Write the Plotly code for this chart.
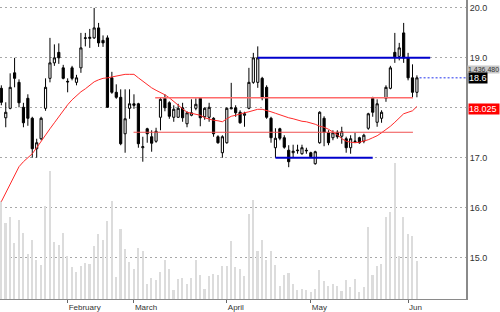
import plotly.graph_objects as go

# ---------------- data ----------------
opens = [18.39, 17.80, 17.99, 18.70, 18.51, 18.01, 18.19, 17.79, 17.18, 17.38,
         17.99, 18.59, 18.90, 19.11, 18.80, 18.53, 18.80, 18.51, 18.80, 19.39,
         19.39, 19.40, 19.60, 19.35, 19.40, 18.60, 18.31, 18.21, 17.48, 17.99,
         18.08, 18.08, 17.20, 17.58, 17.42, 17.33, 17.81, 18.19, 18.10, 17.81,
         17.81, 18.00, 17.68, 17.85, 17.99, 18.19, 17.82, 17.81, 17.79, 17.42,
         17.10, 17.30, 17.98, 18.00, 17.91, 17.85, 17.99, 18.51, 18.51, 18.59,
         18.41, 17.79, 17.20, 17.58, 17.40, 17.15, 17.10, 17.14, 17.08, 17.15,
         17.10, 16.88, 17.30, 17.79, 17.50, 17.40, 17.51, 17.43, 17.38, 17.20,
         17.32, 17.40, 17.33, 17.59, 18.19, 17.71, 17.79, 18.19, 18.39, 19.11,
         19.03, 19.50, 19.00, 18.60, 18.31]
highs = [18.45, 18.11, 18.69, 19.00, 18.57, 18.10, 18.27, 17.82, 17.38, 17.82,
         18.59, 19.40, 19.27, 19.29, 18.86, 18.59, 18.84, 18.66, 19.50, 19.50,
         19.58, 20.00, 19.70, 19.45, 19.45, 18.72, 18.47, 18.37, 18.37, 18.37,
         18.27, 18.10, 17.42, 17.60, 17.55, 17.60, 18.20, 18.27, 18.13, 18.05,
         18.08, 18.10, 17.93, 18.17, 18.19, 18.20, 18.01, 18.10, 17.81, 17.45,
         17.45, 18.01, 18.50, 18.05, 17.95, 17.92, 18.80, 19.10, 19.23, 18.62,
         18.45, 17.82, 17.59, 17.60, 17.45, 17.25, 17.26, 17.26, 17.26, 17.20,
         17.12, 17.14, 17.93, 17.83, 17.55, 17.55, 17.55, 17.62, 17.42, 17.45,
         17.50, 17.42, 17.48, 17.90, 18.22, 18.17, 17.95, 18.45, 18.84, 19.50,
         19.30, 19.70, 19.10, 18.87, 18.65]
lows = [18.05, 17.61, 17.97, 18.41, 18.01, 17.61, 17.64, 17.00, 17.00, 17.35,
        17.94, 18.51, 18.84, 18.88, 18.57, 18.31, 18.55, 18.45, 18.70, 19.23,
        19.20, 19.38, 19.22, 19.22, 18.00, 18.28, 18.18, 17.25, 17.10, 17.78,
        17.98, 17.20, 16.92, 17.30, 17.12, 17.30, 17.55, 17.93, 17.78, 17.72,
        17.80, 17.72, 17.61, 17.83, 17.95, 17.63, 17.76, 17.72, 17.42, 17.28,
        17.00, 17.28, 17.97, 17.82, 17.68, 17.62, 17.97, 18.48, 18.40, 18.15,
        17.78, 17.30, 17.00, 17.35, 17.18, 16.81, 17.00, 17.08, 17.06, 17.08,
        17.00, 16.86, 17.28, 17.23, 17.25, 17.35, 17.38, 17.28, 17.10, 17.08,
        17.30, 17.28, 17.29, 17.56, 17.82, 17.62, 17.70, 18.12, 18.37, 18.90,
        18.95, 18.90, 18.55, 18.21, 18.21]
closes = [18.11, 17.91, 18.41, 18.59, 18.10, 17.70, 17.79, 17.18, 17.30, 17.79,
          18.41, 18.90, 19.00, 19.00, 18.59, 18.52, 18.59, 18.60, 19.20, 19.40,
          19.41, 19.60, 19.30, 19.30, 18.01, 18.31, 18.21, 17.28, 17.78, 18.08,
          18.05, 17.28, 17.22, 17.48, 17.29, 17.53, 18.17, 18.00, 17.83, 17.97,
          17.99, 17.80, 17.90, 17.90, 18.07, 17.80, 17.99, 18.01, 17.48, 17.30,
          17.42, 17.99, 18.00, 17.90, 17.70, 17.88, 18.51, 19.00, 19.00, 18.20,
          17.81, 17.40, 17.39, 17.39, 17.21, 16.92, 17.13, 17.15, 17.20, 17.14,
          17.02, 17.12, 17.91, 17.51, 17.30, 17.50, 17.42, 17.52, 17.20, 17.38,
          17.33, 17.30, 17.45, 17.88, 17.91, 18.08, 17.91, 18.41, 18.80, 19.02,
          19.20, 19.00, 18.60, 18.31, 18.60]
volumes = [3662000, 2857000, 3079000, 2115000, 2942000, 2475000, 1681000, 2200000, 1458000, 1287000,
           3476000, 4797000, 2152000, 2029000, 2475000, 1621000, 1187000, 1002000, 1250000, 1336000,
           1310000, 1977000, 2423000, 2200000, 2920000, 3662000, 842000, 2608000, 1866000, 1373000,
           1124000, 1903000, 1781000, 568000, 790000, 694000, 1020000, 1458000, 1113000, 345000,
           731000, 790000, 568000, 790000, 1458000, 890000, 382000, 853000, 928000, 890000,
           1235000, 1250000, 2178000, 1187000, 1113000, 879000, 3191000, 3721000, 1781000, 2226000,
           1458000, 1807000, 1273000, 482000, 890000, 965000, 568000, 323000, 382000, 323000,
           260000, 371000, 1087000, 668000, 471000, 545000, 471000, 286000, 694000, 445000,
           731000, 260000, 445000, 2697000, 916000, 1250000, 1310000, 3068000, 3254000, 5083000,
           1621000, 3079000, 2423000, 2363000, 1436480]
moving_avg = [16.12, 16.30, 16.48, 16.66, 16.82, 16.92, 17.00, 17.08, 17.20, 17.33,
              17.47, 17.58, 17.70, 17.82, 17.95, 18.06, 18.16, 18.25, 18.32, 18.38,
              18.45, 18.52, 18.56, 18.59, 18.60, 18.62, 18.64, 18.66, 18.67, 18.67,
              18.67, 18.60, 18.53, 18.46, 18.40, 18.35, 18.31, 18.26, 18.20, 18.12,
              18.06, 17.98, 17.91, 17.89, 17.88, 17.85, 17.80, 17.77, 17.75, 17.74,
              17.72, 17.78, 17.83, 17.85, 17.88, 17.90, 17.92, 17.94, 17.97, 17.97,
              17.95, 17.92, 17.89, 17.86, 17.82, 17.80, 17.78, 17.75, 17.73, 17.72,
              17.70, 17.67, 17.63, 17.61, 17.57, 17.52, 17.46, 17.38, 17.33, 17.31,
              17.30, 17.31, 17.33, 17.36, 17.40, 17.44, 17.50, 17.56, 17.63, 17.71,
              17.80, 17.88, 17.91, 17.94, 18.025]
bar_index = list(range(len(closes)))

month_tick_index = [15, 30, 51, 70, 92]
month_labels = ["February", "March", "April", "May", "Jun"]
price_ticks = [15.0, 16.0, 17.0, 18.0, 19.0, 20.0]
price_tick_labels = ["15.0", "16.0", "17.0", "", "19.0", "20.0"]  # 18.0 sits under the MA tag

# drawn support / resistance levels: (value, first index, last index)
blue_levels = [19.0, 17.0]
blue_from = [58, 62]
blue_to = [97, 84]
red_levels = [18.20, 17.51]
red_from = [34.8, 29.9]
red_to = [93.1, 93.1]
last_close = 18.6
last_volume_text = "1,436,480"
ma_last_text = "18.025"

# ---------------- figure ----------------
fig = go.Figure()

fig.add_trace(go.Bar(x=bar_index, y=volumes, width=0.36,
                     marker=dict(color="#dcdcdc", line=dict(width=0)),
                     yaxis="y", hoverinfo="skip"))

fig.add_trace(go.Scatter(x=bar_index, y=moving_avg, mode="lines",
                         line=dict(color="#ff2a2a", width=1), yaxis="y2"))

for v, a, b, w, c in zip(red_levels, red_from, red_to, [1.6, 1.0], ["#ff6a6a", "#f05050"]):
    fig.add_trace(go.Scatter(x=[a, b], y=[v, v], mode="lines",
                             line=dict(color=c, width=w), yaxis="y2"))

fig.add_trace(go.Candlestick(
    x=bar_index, open=opens, high=highs, low=lows, close=closes, yaxis="y2",
    increasing=dict(line=dict(color="black", width=1), fillcolor="white"),
    decreasing=dict(line=dict(color="black", width=1), fillcolor="black"),
    whiskerwidth=0))

for v, a, b in zip(blue_levels, blue_from, blue_to):
    fig.add_trace(go.Scatter(x=[a, b], y=[v, v], mode="lines",
                             line=dict(color="#0000cc", width=2), yaxis="y2"))

fig.add_trace(go.Scatter(x=[bar_index[-1] + 0.6, 105.2], y=[last_close, last_close], mode="lines",
                         line=dict(color="#2233ee", width=1, dash="2px,2px"), yaxis="y2"))

font_family = "Liberation Sans, Arial, sans-serif"

fig.update_layout(
    width=500, height=312,
    margin=dict(l=0, r=34, t=0, b=10),
    paper_bgcolor="white", plot_bgcolor="white",
    showlegend=False, boxgap=0.3, bargap=0,
    font=dict(family=font_family, size=9, color="#333333"),
    xaxis=dict(range=[-0.3, 105.1], showgrid=False, zeroline=False,
               rangeslider=dict(visible=False),
               tickmode="array", tickvals=month_tick_index, ticktext=month_labels,
               ticks="outside", ticklen=3, tickwidth=1, tickcolor="#666666",
               ticklabelposition="outside right",
               tickfont=dict(size=8, color="#333333", family=font_family),
               showline=True, linecolor="#8a8a8a", linewidth=1, anchor="y"),
    yaxis=dict(range=[0, 11204000], visible=False, showgrid=False, zeroline=False),
    yaxis2=dict(range=[14.170, 20.159], overlaying="y", side="right",
                tickmode="array", tickvals=price_ticks, ticktext=price_tick_labels,
                showgrid=True, gridcolor="#a8a8a8", gridwidth=1, griddash="2px,3px",
                zeroline=False, showline=True, linecolor="#8a8a8a", linewidth=2,
                ticks="", tickfont=dict(size=9, color="#333333", family=font_family)),
)

# right-hand value tags
fig.add_annotation(xref="paper", x=1.0, xanchor="left", xshift=1, yref="y2", y=18.77,
                   text=last_volume_text, showarrow=False, bgcolor="#c8c8c8",
                   font=dict(size=7, color="#333333", family=font_family), borderpad=0)
fig.add_annotation(xref="paper", x=1.0, xanchor="left", xshift=2, yref="y2", y=last_close,
                   text=f"{last_close:.1f}", showarrow=False, bgcolor="black",
                   font=dict(size=9, color="white", family=font_family), borderpad=0)
fig.add_annotation(xref="paper", x=1.0, xanchor="left", xshift=2, yref="y2", y=moving_avg[-1] - 0.04,
                   text=ma_last_text + " ", showarrow=False, bgcolor="#ff0000",
                   font=dict(size=9, color="white", family=font_family), borderpad=0)

fig.write_html("out.html")
